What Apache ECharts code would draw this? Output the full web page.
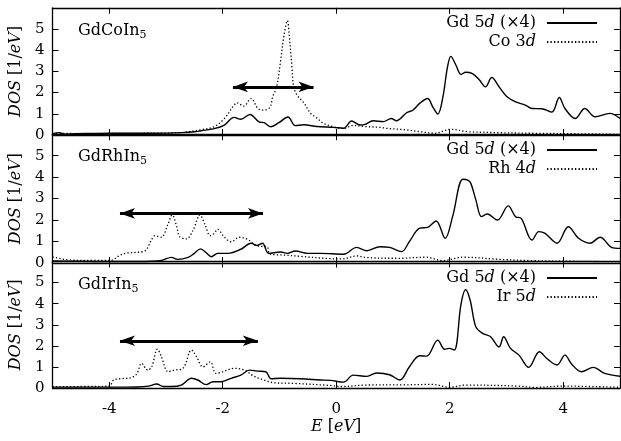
<!DOCTYPE html>
<html>
<head>
<meta charset="utf-8">
<script src="https://cdn.jsdelivr.net/npm/echarts@6/dist/echarts.min.js"></script>
<style>
html,body{margin:0;padding:0;background:#fff;}
#chart{width:621px;height:441px;}
</style>
</head>
<body>
<div id="chart"></div>
<script>
// ---------------- data (energy E [eV], DOS [1/eV]) ----------------
const panelNames = ['GdCo', 'GdRh', 'GdIr'];
const legendNames = [
  ['Gd 5d (×4)', 'Co 3d'],
  ['Gd 5d (×4) ', 'Rh 4d'],
  ['Gd 5d (×4)  ', 'Ir 5d']
];
const xTicks = [-4, -2, 0, 2, 4];
const yTicks = [0, 1, 2, 3, 4, 5];

const gdCo = [[-5.0,0.06],[-4.88,0.11],[-4.77,0.04],[-4.6,0.06],[-4.3,0.07],[-4.0,0.08],[-3.5,0.08],[-3.0,0.09],[-2.73,0.11],[-2.5,0.15],[-2.38,0.2],[-2.15,0.3],[-1.97,0.47],[-1.80,0.83],[-1.68,0.74],[-1.52,0.97],[-1.36,0.62],[-1.27,0.58],[-1.15,0.39],[-1.01,0.58],[-0.85,0.85],[-0.72,0.44],[-0.57,0.48],[-0.34,0.4],[-0.05,0.36],[0.13,0.32],[0.27,0.66],[0.42,0.47],[0.51,0.5],[0.65,0.67],[0.83,0.63],[0.97,0.78],[1.06,0.67],[1.24,1.05],[1.35,1.17],[1.47,1.49],[1.61,1.72],[1.70,1.33],[1.79,0.99],[1.88,1.8],[1.96,3.2],[2.02,3.71],[2.11,3.29],[2.20,2.86],[2.28,2.96],[2.40,2.9],[2.52,2.61],[2.63,2.27],[2.74,2.71],[2.87,2.27],[3.01,1.8],[3.16,1.56],[3.33,1.41],[3.45,1.25],[3.62,1.24],[3.80,1.08],[3.93,1.77],[4.03,1.25],[4.21,0.78],[4.38,1.25],[4.56,0.86],[4.82,1.02],[5.0,0.78]];
const co3d = [[-5.0,0.05],[-4.8,0.08],[-4.5,0.06],[-4.0,0.07],[-3.5,0.08],[-3.0,0.09],[-2.7,0.12],[-2.38,0.25],[-2.15,0.39],[-1.97,0.78],[-1.80,1.41],[-1.75,1.52],[-1.63,1.36],[-1.50,1.72],[-1.38,1.25],[-1.29,1.17],[-1.17,1.3],[-1.12,1.8],[-1.05,2.27],[-0.98,3.5],[-0.92,4.7],[-0.86,5.4],[-0.83,4.77],[-0.78,3.2],[-0.75,2.27],[-0.69,1.88],[-0.60,1.6],[-0.57,1.52],[-0.45,1.02],[-0.34,0.8],[-0.22,0.55],[-0.05,0.39],[0.13,0.31],[0.3,0.45],[0.5,0.4],[0.77,0.36],[0.9,0.31],[1.2,0.25],[1.5,0.15],[1.73,0.08],[2.02,0.27],[2.3,0.16],[2.87,0.11],[3.5,0.08],[4.2,0.06],[5.0,0.03]];

const gdRh = [[-5.0,0.1],[-4.5,0.08],[-4.0,0.07],[-3.5,0.07],[-3.25,0.08],[-3.08,0.12],[-2.90,0.26],[-2.80,0.17],[-2.61,0.26],[-2.50,0.45],[-2.39,0.66],[-2.29,0.48],[-2.20,0.29],[-2.09,0.45],[-1.91,0.45],[-1.68,0.64],[-1.50,0.92],[-1.39,0.82],[-1.30,0.92],[-1.19,0.45],[-0.98,0.51],[-0.86,0.45],[-0.72,0.56],[-0.51,0.45],[-0.28,0.45],[0.13,0.41],[0.36,0.73],[0.54,0.57],[0.77,0.76],[0.94,0.73],[1.15,0.53],[1.29,1.0],[1.47,1.62],[1.61,1.66],[1.76,1.96],[1.92,1.15],[2.05,2.16],[2.23,3.9],[2.31,3.87],[2.37,3.72],[2.46,2.94],[2.56,2.16],[2.66,2.28],[2.84,2.0],[3.03,2.66],[3.16,2.16],[3.26,2.08],[3.45,1.07],[3.57,1.46],[3.68,1.38],[3.89,0.92],[4.09,1.69],[4.27,1.15],[4.47,0.92],[4.65,1.2],[4.85,0.73],[5.0,0.68]];
const rh4d = [[-5.0,0.28],[-4.85,0.2],[-4.71,0.14],[-4.3,0.12],[-3.95,0.13],[-3.85,0.3],[-3.72,0.45],[-3.5,0.5],[-3.37,0.56],[-3.25,1.1],[-3.20,1.27],[-3.08,1.2],[-2.97,1.77],[-2.89,2.24],[-2.81,1.69],[-2.76,1.23],[-2.64,1.12],[-2.52,1.54],[-2.40,2.24],[-2.31,1.77],[-2.22,1.27],[-2.15,1.38],[-2.09,1.57],[-1.98,1.23],[-1.85,0.99],[-1.71,1.2],[-1.56,1.1],[-1.39,0.79],[-1.22,0.76],[-1.17,0.42],[-0.92,0.37],[-0.63,0.31],[-0.1,0.2],[0.1,0.19],[0.36,0.33],[0.54,0.25],[1.12,0.22],[1.58,0.27],[1.88,0.11],[2.23,0.27],[2.87,0.17],[3.45,0.11],[4.2,0.08],[5.0,0.06]];

const gdIr = [[-5.0,0.04],[-4.5,0.04],[-4.0,0.04],[-3.5,0.05],[-3.31,0.09],[-3.16,0.19],[-3.05,0.07],[-2.90,0.07],[-2.73,0.14],[-2.55,0.46],[-2.44,0.38],[-2.29,0.16],[-2.17,0.3],[-2.03,0.3],[-1.85,0.46],[-1.68,0.61],[-1.53,0.85],[-1.39,0.8],[-1.24,0.77],[-1.15,0.44],[-0.98,0.46],[-0.63,0.44],[-0.28,0.38],[-0.1,0.36],[0.13,0.28],[0.30,0.61],[0.54,0.55],[0.71,0.71],[0.94,0.63],[1.12,0.38],[1.29,1.01],[1.47,1.53],[1.59,1.51],[1.79,2.27],[1.91,1.84],[1.99,1.88],[2.08,1.8],[2.20,4.0],[2.28,4.67],[2.36,4.16],[2.46,2.9],[2.58,2.59],[2.72,2.43],[2.87,1.95],[2.95,2.43],[3.07,1.88],[3.22,1.56],[3.39,0.98],[3.58,1.72],[3.71,1.4],[3.89,1.09],[4.03,1.56],[4.15,1.13],[4.32,0.77],[4.53,0.98],[4.73,0.69],[5.0,0.56]];
const ir5d = [[-5.0,0.06],[-4.5,0.07],[-4.0,0.09],[-3.92,0.38],[-3.75,0.45],[-3.60,0.5],[-3.51,0.69],[-3.43,1.17],[-3.32,0.85],[-3.25,1.01],[-3.15,1.84],[-3.08,1.48],[-2.96,0.77],[-2.85,0.85],[-2.70,0.93],[-2.55,1.8],[-2.46,1.48],[-2.35,1.0],[-2.22,1.24],[-2.12,0.69],[-2.0,0.77],[-1.80,0.93],[-1.62,0.85],[-1.45,0.56],[-1.27,0.38],[-1.10,0.25],[-0.75,0.22],[-0.1,0.12],[0.1,0.07],[0.54,0.14],[1.2,0.15],[1.7,0.17],[2.0,0.03],[2.28,0.14],[3.2,0.09],[3.5,0.03],[4.0,0.09],[5.0,0.03]];

// double arrows: [E start, E end, DOS level]
const arrowCo = [-1.82, -0.40, 2.27];
const arrowRh = [-3.81, -1.29, 2.31];
const arrowIr = [-3.81, -1.38, 2.24];

// ---------------- layout ----------------
const FONT = 'DejaVu Serif';
const grids = [
  {left: 50, right: 1, top: 7.8, height: 127.2},
  {left: 50, right: 1, top: 134.2, height: 128.8},
  {left: 50, right: 1, top: 261.5, height: 126.5}
];
const solids = [gdCo, gdRh, gdIr];
const dots = [co3d, rh4d, ir5d];
const arrows = [arrowCo, arrowRh, arrowIr];
const legendTops = [15, 142, 270];
const titleTops = [21, 147, 275];

const rich = {
  n: {fontFamily: FONT, fontSize: 16, fontWeight: 'normal', color: '#000'},
  i: {fontFamily: FONT, fontSize: 16, fontWeight: 'normal', fontStyle: 'italic', color: '#000'},
  s: {fontFamily: FONT, fontSize: 11, fontWeight: 'normal', color: '#000', padding: [9, 0, 0, 0]}
};

function legendFmt(name) {
  const t = name.trim();
  const m = t.match(/^(\S+) (\d)d(.*)$/);
  if (!m) return '{n|' + t + '}';
  return '{n|' + m[1] + ' ' + m[2] + '}{i|d}' + (m[3] ? '{n|' + m[3] + '}' : '');
}

const xAxes = [], yAxes = [], series = [], legends = [], titles = [];
const axisLineStyle = {show: true, onZero: false, lineStyle: {color: '#000', width: 1.3}};
for (let k = 0; k < 3; k++) {
  const last = k === 2;
  xAxes.push({
    type: 'value', gridIndex: k, min: -5, max: 5, position: 'bottom',
    axisLine: axisLineStyle,
    axisTick: {show: true, inside: true, length: 6, customValues: xTicks, lineStyle: {color: '#000', width: 1}},
    axisLabel: {show: last, customValues: xTicks, margin: 14, color: '#000', fontFamily: FONT, fontSize: 15},
    splitLine: {show: false},
    name: last ? '{i|E}{n| [}{i|eV}{n|]}' : '',
    nameLocation: 'middle', nameGap: 31,
    nameTextStyle: {rich: rich}
  });
  yAxes.push({
    type: 'value', gridIndex: k, min: 0, max: 6, position: 'left',
    axisLine: axisLineStyle,
    axisTick: {show: true, inside: true, length: 6, customValues: yTicks, lineStyle: {color: '#000', width: 1}},
    axisLabel: {show: true, customValues: yTicks, margin: 8, color: '#000', fontFamily: FONT, fontSize: 15},
    splitLine: {show: false},
    name: '{i|DOS}{n| [1/}{i|eV}{n|]}',
    nameLocation: 'middle', nameRotate: 90, nameGap: 24,
    nameTextStyle: {rich: rich}
  });
}
for (let k = 0; k < 3; k++) {
  xAxes.push({
    type: 'value', gridIndex: k, min: -5, max: 5, position: 'top',
    axisLine: axisLineStyle,
    axisTick: {show: true, inside: true, length: 6, customValues: xTicks, lineStyle: {color: '#000', width: 1}},
    axisLabel: {show: false}, splitLine: {show: false}
  });
  yAxes.push({
    type: 'value', gridIndex: k, min: 0, max: 6, position: 'right',
    axisLine: axisLineStyle,
    axisTick: {show: true, inside: true, length: 6, customValues: yTicks, lineStyle: {color: '#000', width: 1}},
    axisLabel: {show: false}, splitLine: {show: false}
  });
}

for (let k = 0; k < 3; k++) {
  const a = arrows[k];
  series.push({
    name: legendNames[k][0], type: 'line', xAxisIndex: k, yAxisIndex: k,
    data: solids[k], smooth: 0.35, symbol: 'none', silent: true,
    lineStyle: {color: '#000', width: 1.4}, itemStyle: {color: '#000'},
    markLine: {
      silent: true, animation: false,
      symbol: ['arrow', 'arrow'], symbolSize: [8, 15],
      label: {show: false},
      lineStyle: {color: '#000', width: 3, type: 'solid'},
      emphasis: {disabled: true},
      data: [[{coord: [a[0], a[2]]}, {coord: [a[1], a[2]]}]]
    }
  });
  series.push({
    name: legendNames[k][1], type: 'line', xAxisIndex: k, yAxisIndex: k,
    data: dots[k], smooth: 0.35, symbol: 'none', silent: true,
    lineStyle: {color: '#000', width: 1.3, type: [1.3, 2.2]}, itemStyle: {color: '#000'}
  });
  legends.push({
    orient: 'vertical', right: 23, top: legendTops[k], padding: 0,
    align: 'right', itemWidth: 50, itemHeight: 14, itemGap: 3,
    selectedMode: false,
    data: legendNames[k],
    formatter: legendFmt,
    itemStyle: {opacity: 0},
    textStyle: {rich: rich, lineHeight: 16, padding: [0, 6, 0, 0]}
  });
  titles.push({
    text: '{n|' + panelNames[k] + 'In}{s|5}',
    left: 78, top: titleTops[k], padding: 0,
    textStyle: {rich: rich, fontWeight: 'normal'}
  });
}

const chart = echarts.init(document.getElementById('chart'));
chart.setOption({
  animation: false,
  backgroundColor: '#fff',
  title: titles,
  legend: legends,
  grid: grids.map(g => Object.assign({show: false}, g)),
  xAxis: xAxes,
  yAxis: yAxes,
  series: series
});
</script>
</body>
</html>
